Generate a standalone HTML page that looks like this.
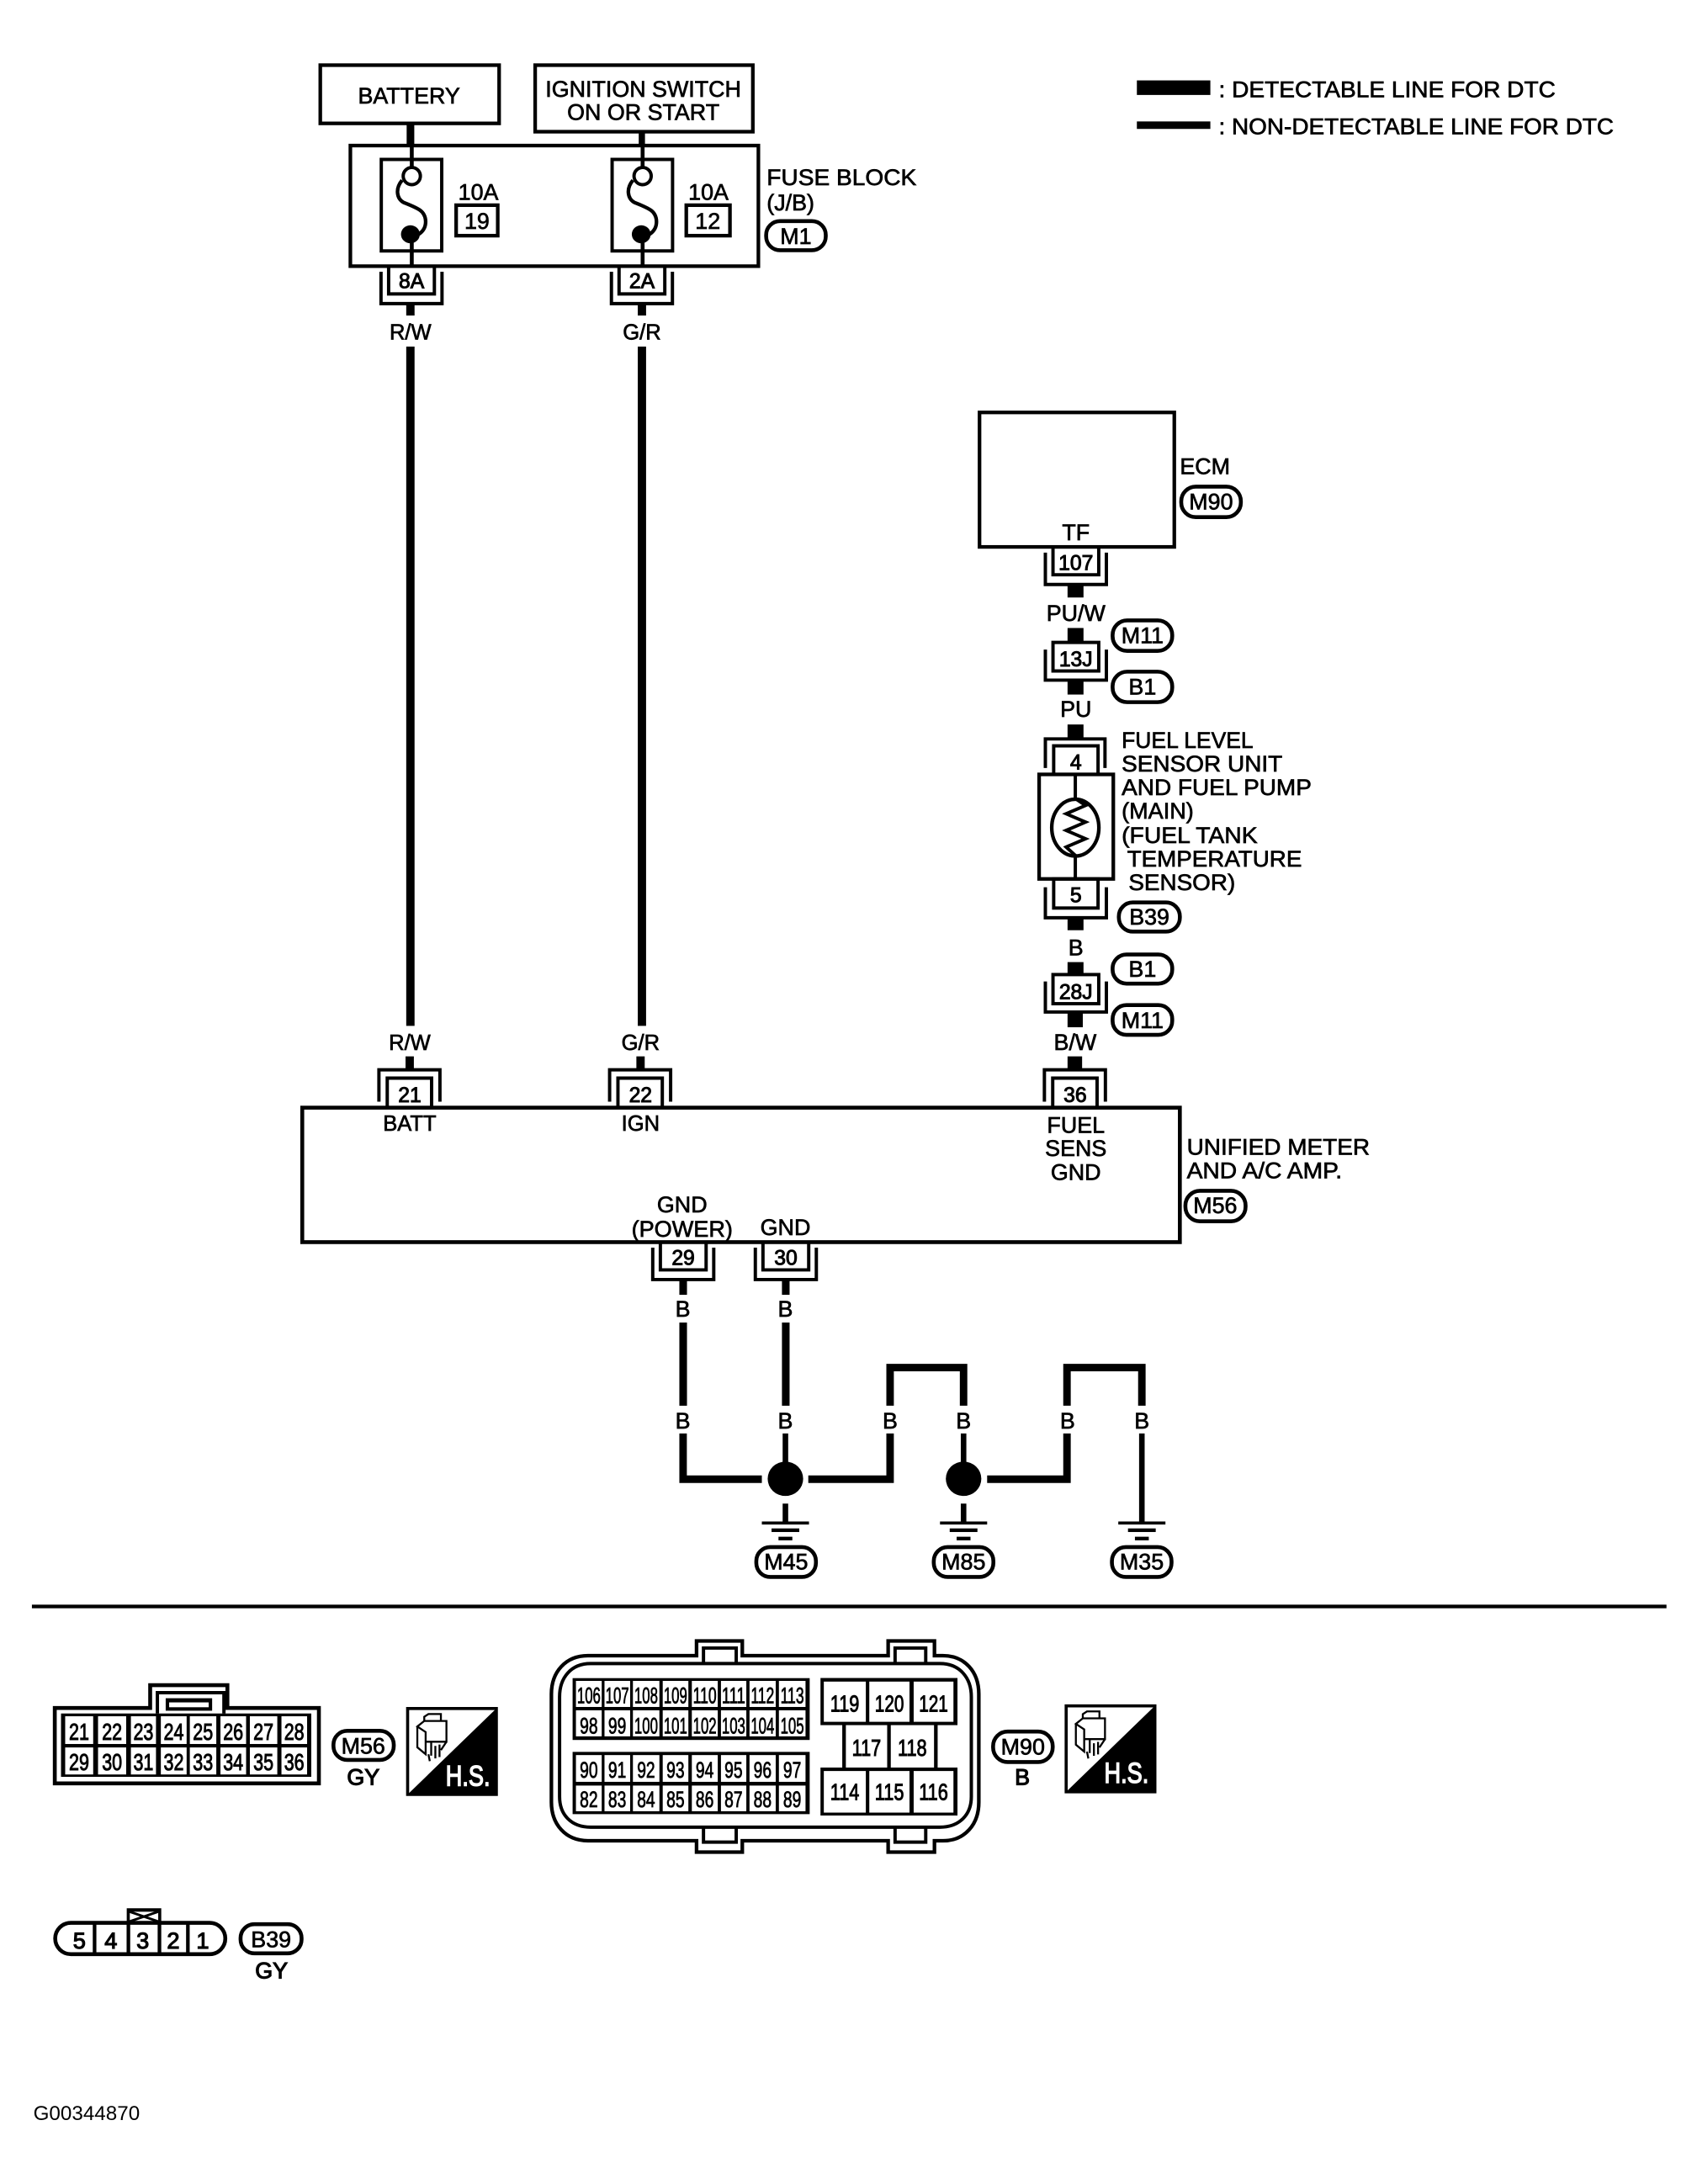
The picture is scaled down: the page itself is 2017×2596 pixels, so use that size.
<!DOCTYPE html>
<html>
<head>
<meta charset="utf-8">
<style>
html,body{margin:0;padding:0;background:#fff;width:2017px;height:2596px;overflow:hidden}
svg{display:block}
text{font-family:"Liberation Sans",sans-serif;font-size:16.3px;fill:#000;stroke:#000;stroke-width:.42px}
.m{text-anchor:middle}
.n{font-size:17px;stroke-width:.6px}
.s{font-size:16.5px;stroke-width:.5px}
.l{fill:none;stroke:#000;stroke-width:2.4}
.w{fill:#fff;stroke:none}
.k{fill:#000;stroke:none}
.p{fill:#fff;stroke:#000;stroke-width:2.8}
</style>
</head>
<body>
<svg width="2017" height="2596" viewBox="0 0 1224 1575.4" xmlns="http://www.w3.org/2000/svg">
<defs>
<g id="cd"><path class="l" d="M-16.5 0V20H16.5V0"/><path class="l" d="M-22 4V27H22V4"/></g>
<g id="cu"><path class="l" d="M-16 0V-21H16V0"/><path class="l" d="M-22 -4V-27H22V-4"/></g>
<g id="gnd"><rect class="k" x="-17" y="-1" width="34" height="2.2"/><rect class="k" x="-10" y="4" width="20" height="2.6"/><rect class="k" x="-5" y="10" width="10" height="2.6"/></g>
<g id="fuse">
<rect class="l" x="-22" y="115" width="43.6" height="66"/>
<path class="l" d="M0 105V121M0 175V192" style="stroke-width:2.8"/>
<circle cx="0" cy="127" r="6.2" class="l"/>
<path class="l" d="M-7 130C-12 136-11 143-6 146C4 150 10 152 10 160C10 164 8 167 5 169" style="stroke-width:2.6"/>
<ellipse class="k" cx="-1" cy="169" rx="6.8" ry="6.5"/>
</g>
<g id="hs">
<path class="p" style="stroke-width:2.2" d="M0 0H64V62H0Z"/>
<path class="k" d="M64 0V62H0Z"/>
<path class="l" style="stroke-width:1.4" d="M7 13V28L13 33V17L7 13L12 9H28V24H13M12 9V6L15 4H24V9M28 24L24 30M17 24V34M20 27V36M23 26V35M15 33L16 38"/>
</g>
</defs>

<!-- legend -->
<rect class="k" x="820" y="58" width="53" height="10.5"/>
<rect class="k" x="820" y="87.6" width="53" height="5.4"/>
<text x="879" y="70" textLength="243" lengthAdjust="spacingAndGlyphs">: DETECTABLE LINE FOR DTC</text>
<text x="879" y="96.7" textLength="285" lengthAdjust="spacingAndGlyphs">: NON-DETECTABLE LINE FOR DTC</text>

<!-- top boxes -->
<rect class="l" x="231" y="47" width="129" height="42" style="stroke-width:2.6"/>
<text class="m" x="295" y="74.5">BATTERY</text>
<rect class="l" x="386" y="47" width="157" height="48" style="stroke-width:2.6"/>
<text class="m" x="464" y="69.9">IGNITION SWITCH</text>
<text class="m" x="464" y="86.6">ON OR START</text>
<rect class="k" x="293.3" y="89" width="5.5" height="16"/>
<rect class="k" x="460.7" y="95" width="4.5" height="10"/>

<!-- fuse block -->
<rect class="l" x="252.7" y="105" width="294.3" height="87" style="stroke-width:2.6"/>
<use href="#fuse" x="297"/>
<use href="#fuse" x="463.5"/>
<text class="m" x="345" y="144">10A</text>
<rect class="l" x="329" y="148" width="30" height="22" style="stroke-width:2.6"/>
<text class="m" x="344" y="165">19</text>
<text class="m" x="511" y="144">10A</text>
<rect class="l" x="495" y="148" width="31.5" height="22" style="stroke-width:2.6"/>
<text class="m" x="510.5" y="165">12</text>
<text x="553" y="133.5" textLength="108" lengthAdjust="spacingAndGlyphs">FUSE BLOCK</text>
<text x="553" y="151.7">(J/B)</text>
<rect class="p" x="552.6" y="159.5" width="43" height="21" rx="10"/>
<text class="m" x="574" y="176">M1</text>

<!-- R/W, G/R -->
<use href="#cd" x="296.8" y="192"/>
<use href="#cd" x="463" y="192"/>
<text class="m n" x="296.8" y="208" style="font-size:15px">8A</text>
<text class="m n" x="463" y="208" style="font-size:15px">2A</text>
<rect class="k" x="293" y="218.6" width="6" height="9"/>
<rect class="k" x="460" y="218.6" width="6" height="9"/>
<text class="m" x="296" y="244.8" style="font-size:15.5px">R/W</text>
<text class="m" x="463" y="244.8" style="font-size:15.5px">G/R</text>
<rect class="k" x="293" y="250" width="6" height="490"/>
<rect class="k" x="460" y="250" width="6" height="490"/>
<text class="m" x="295.5" y="757.4" style="font-size:15.5px">R/W</text>
<text class="m" x="462" y="757.4" style="font-size:15.5px">G/R</text>
<rect class="k" x="292.5" y="762" width="6" height="10"/>
<rect class="k" x="459" y="762" width="6" height="10"/>

<!-- ECM -->
<rect class="l" x="706.5" y="297.5" width="140.5" height="97" style="stroke-width:2.6"/>
<text x="851" y="342">ECM</text>
<rect class="p" x="852" y="351" width="43" height="22" rx="10.5"/>
<text class="m" x="873.5" y="367.5">M90</text>
<text class="m" x="776" y="389.6">TF</text>
<use href="#cd" x="776" y="394.6"/>
<text class="m n" x="776" y="411" style="font-size:15px">107</text>
<rect class="k" x="770" y="421.7" width="11.5" height="9.3"/>
<text class="m" x="776" y="448">PU/W</text>
<rect class="k" x="770" y="453" width="11.5" height="10"/>
<rect class="l" x="759.5" y="463.4" width="33" height="20.6"/>
<path class="l" d="M754 468.6V490.6H798V468.6"/>
<text class="m n" x="776" y="480.5" style="font-size:15px">13J</text>
<rect class="k" x="770" y="490.6" width="11.5" height="10.4"/>
<rect class="p" x="802.5" y="447.5" width="43" height="22" rx="10.5"/>
<text class="m" x="824" y="464">M11</text>
<rect class="p" x="802.5" y="484.5" width="43" height="22" rx="10.5"/>
<text class="m" x="824" y="501">B1</text>
<text class="m" x="776" y="517">PU</text>
<rect class="k" x="770" y="522.6" width="11.5" height="9.4"/>
<path class="l" d="M754 554V533H797V554"/>
<rect class="l" x="760" y="538" width="32" height="20.6"/>
<text class="m n" x="776" y="555" style="font-size:15px">4</text>
<rect class="l" x="749.5" y="558.6" width="53.5" height="75.4" style="stroke-width:2.6"/>
<path class="l" d="M775.6 558.6V576L783 581L769 587L783 593L769 599L783 605L769 611L775.6 617V634" style="stroke-width:2.4"/>
<ellipse class="l" cx="775.6" cy="597" rx="17" ry="20.5" style="stroke-width:2.6"/>
<rect class="l" x="760" y="634" width="32" height="21"/>
<path class="l" d="M754 640V662H798V640"/>
<text class="m n" x="776" y="651" style="font-size:15px">5</text>
<text x="809" y="539.5" textLength="95" lengthAdjust="spacingAndGlyphs">FUEL LEVEL</text>
<text x="809" y="556.5" textLength="116" lengthAdjust="spacingAndGlyphs">SENSOR UNIT</text>
<text x="809" y="573.5" textLength="137" lengthAdjust="spacingAndGlyphs">AND FUEL PUMP</text>
<text x="809" y="590.5" textLength="52" lengthAdjust="spacingAndGlyphs">(MAIN)</text>
<text x="809" y="608" textLength="98" lengthAdjust="spacingAndGlyphs">(FUEL TANK</text>
<text x="813" y="625" textLength="126" lengthAdjust="spacingAndGlyphs">TEMPERATURE</text>
<text x="814" y="642" textLength="77" lengthAdjust="spacingAndGlyphs">SENSOR)</text>
<rect class="p" x="807" y="651" width="44" height="21" rx="10"/>
<text class="m" x="829" y="667">B39</text>
<rect class="k" x="770" y="662" width="11.5" height="9"/>
<text class="m" x="776" y="689">B</text>
<rect class="k" x="770" y="694" width="11.5" height="9"/>
<rect class="l" x="759.5" y="703" width="33" height="21"/>
<path class="l" d="M754 708V730H798V708"/>
<text class="m n" x="776" y="720.5" style="font-size:15px">28J</text>
<rect class="p" x="802.5" y="688.5" width="43" height="21" rx="10"/>
<text class="m" x="824" y="704.5">B1</text>
<rect class="p" x="802.5" y="725" width="43" height="21.5" rx="10"/>
<text class="m" x="824" y="741.5">M11</text>
<rect class="k" x="770" y="730" width="11" height="11"/>
<text class="m" x="775.5" y="757.4">B/W</text>
<rect class="k" x="770" y="762" width="10.5" height="10"/>

<!-- main box -->
<use href="#cu" x="295.3" y="798.7"/>
<use href="#cu" x="461.7" y="798.7"/>
<use href="#cu" x="775.3" y="798.7"/>
<text class="m n" x="295.5" y="795" style="font-size:15px">21</text>
<text class="m n" x="462" y="795" style="font-size:15px">22</text>
<text class="m n" x="775.5" y="795" style="font-size:15px">36</text>
<rect class="l" x="218" y="799" width="633" height="97" style="stroke-width:2.8"/>
<text class="m" x="295.5" y="815.5" style="font-size:15.5px">BATT</text>
<text class="m" x="462" y="815.5" style="font-size:15.5px">IGN</text>
<text class="m" x="776" y="817">FUEL</text>
<text class="m" x="776" y="833.7">SENS</text>
<text class="m" x="776" y="851">GND</text>
<text x="856" y="833" textLength="132" lengthAdjust="spacingAndGlyphs">UNIFIED METER</text>
<text x="856" y="850" textLength="112" lengthAdjust="spacingAndGlyphs">AND A/C AMP.</text>
<rect class="p" x="855" y="859" width="43.4" height="22" rx="10.5"/>
<text class="m" x="876.5" y="875">M56</text>
<text class="m" x="492" y="874.6">GND</text>
<text class="m" x="492" y="892" textLength="73" lengthAdjust="spacingAndGlyphs">(POWER)</text>
<text class="m" x="566.5" y="891">GND</text>
<use href="#cd" x="492.8" y="896"/>
<use href="#cd" x="566.8" y="896"/>
<text class="m n" x="492.8" y="912.4" style="font-size:15px">29</text>
<text class="m n" x="566.8" y="912.4" style="font-size:15px">30</text>

<!-- ground wiring -->
<rect class="k" x="490" y="922.6" width="5.5" height="11.4"/>
<rect class="k" x="564" y="922.6" width="5.5" height="11.4"/>
<text class="m" x="492.5" y="949.8">B</text>
<text class="m" x="566.5" y="949.8">B</text>
<rect class="k" x="490" y="954" width="5.5" height="60"/>
<rect class="k" x="564" y="954" width="5.5" height="60"/>
<text class="m" x="492.5" y="1030.5">B</text>
<text class="m" x="566.5" y="1030.5">B</text>
<text class="m" x="642" y="1030.5">B</text>
<text class="m" x="695" y="1030.5">B</text>
<text class="m" x="770" y="1030.5">B</text>
<text class="m" x="823.6" y="1030.5">B</text>
<path d="M492.7 1034V1067H549.5" fill="none" stroke="#000" stroke-width="5.4"/>
<path d="M583 1067H642V1034" fill="none" stroke="#000" stroke-width="5.4"/>
<path d="M642 1014V986.5H695V1014" fill="none" stroke="#000" stroke-width="5.4"/>
<path d="M712 1067H769.6V1034" fill="none" stroke="#000" stroke-width="5.4"/>
<path d="M769.6 1014V986.5H823.6V1014" fill="none" stroke="#000" stroke-width="5.4"/>
<rect class="k" x="564.5" y="1034" width="4" height="22"/>
<rect class="k" x="693" y="1034" width="4" height="22"/>
<rect class="k" x="821.6" y="1034" width="4" height="65"/>
<ellipse class="k" cx="566.5" cy="1066.7" rx="12.8" ry="12.4"/>
<ellipse class="k" cx="695" cy="1066.7" rx="12.8" ry="12.4"/>
<rect class="k" x="564.5" y="1084.6" width="4" height="14"/>
<rect class="k" x="693" y="1084.6" width="4" height="14"/>
<use href="#gnd" x="566.5" y="1098.5"/>
<use href="#gnd" x="695" y="1098.5"/>
<use href="#gnd" x="823.6" y="1098.5"/>
<rect class="p" x="545.5" y="1116" width="43" height="21.5" rx="10"/>
<text class="m" x="567" y="1132">M45</text>
<rect class="p" x="673.5" y="1116" width="43" height="21.5" rx="10"/>
<text class="m" x="695" y="1132">M85</text>
<rect class="p" x="802" y="1116" width="43" height="21.5" rx="10"/>
<text class="m" x="823.5" y="1132">M35</text>

<!-- separator -->
<rect class="k" x="23" y="1157.5" width="1179" height="2.6"/>

<!-- M56 connector -->
<path class="l" d="M39.5 1286.4V1232H108.3V1215.6H164V1232H230V1286.4Z" style="stroke-width:2.8;fill:#fff"/>
<path class="l" d="M113.5 1236V1221H161.5V1236"/>
<rect class="k" x="119.5" y="1225" width="33.5" height="9"/>
<rect class="w" x="122" y="1228" width="28.5" height="3.5"/>
<rect class="k" x="44" y="1236" width="180.5" height="45.7"/>
<g class="w">
<rect x="47" y="1238" width="20.2" height="20"/><rect x="70.7" y="1238" width="20.3" height="20"/><rect x="94.4" y="1238" width="18.1" height="20"/><rect x="116" y="1238" width="18.6" height="20"/><rect x="136.9" y="1238" width="19.1" height="20"/><rect x="159" y="1238" width="18.5" height="20"/><rect x="180.2" y="1238" width="19.8" height="20"/><rect x="203" y="1238" width="18.5" height="20"/>
<rect x="47" y="1260.5" width="20.2" height="19.5"/><rect x="70.7" y="1260.5" width="20.3" height="19.5"/><rect x="94.4" y="1260.5" width="18.1" height="19.5"/><rect x="116" y="1260.5" width="18.6" height="19.5"/><rect x="136.9" y="1260.5" width="19.1" height="19.5"/><rect x="159" y="1260.5" width="18.5" height="19.5"/><rect x="180.2" y="1260.5" width="19.8" height="19.5"/><rect x="203" y="1260.5" width="18.5" height="19.5"/>
</g>
<text class="m n" x="57" y="1255" textLength="14.5" lengthAdjust="spacingAndGlyphs">21</text><text class="m n" x="80.8" y="1255" textLength="14.5" lengthAdjust="spacingAndGlyphs">22</text><text class="m n" x="103.4" y="1255" textLength="14.5" lengthAdjust="spacingAndGlyphs">23</text><text class="m n" x="125.3" y="1255" textLength="14.5" lengthAdjust="spacingAndGlyphs">24</text><text class="m n" x="146.4" y="1255" textLength="14.5" lengthAdjust="spacingAndGlyphs">25</text><text class="m n" x="168.2" y="1255" textLength="14.5" lengthAdjust="spacingAndGlyphs">26</text><text class="m n" x="190" y="1255" textLength="14.5" lengthAdjust="spacingAndGlyphs">27</text><text class="m n" x="212.2" y="1255" textLength="14.5" lengthAdjust="spacingAndGlyphs">28</text>
<text class="m n" x="57" y="1276.7" textLength="14.5" lengthAdjust="spacingAndGlyphs">29</text><text class="m n" x="80.8" y="1276.7" textLength="14.5" lengthAdjust="spacingAndGlyphs">30</text><text class="m n" x="103.4" y="1276.7" textLength="14.5" lengthAdjust="spacingAndGlyphs">31</text><text class="m n" x="125.3" y="1276.7" textLength="14.5" lengthAdjust="spacingAndGlyphs">32</text><text class="m n" x="146.4" y="1276.7" textLength="14.5" lengthAdjust="spacingAndGlyphs">33</text><text class="m n" x="168.2" y="1276.7" textLength="14.5" lengthAdjust="spacingAndGlyphs">34</text><text class="m n" x="190" y="1276.7" textLength="14.5" lengthAdjust="spacingAndGlyphs">35</text><text class="m n" x="212.2" y="1276.7" textLength="14.5" lengthAdjust="spacingAndGlyphs">36</text>
<rect class="p" x="240.5" y="1248.5" width="43.5" height="21" rx="10"/>
<text class="m" x="262" y="1265">M56</text>
<text class="m" x="262" y="1287.5" style="stroke-width:.7">GY</text>
<use href="#hs" x="294" y="1232.4"/>
<text class="m" x="337.5" y="1288" style="font-size:21px;fill:#fff;stroke:#fff;stroke-width:.9" textLength="32" lengthAdjust="spacingAndGlyphs">H.S.</text>

<!-- M90 connector -->
<path class="l" style="stroke-width:2.6;fill:#fff" d="M424 1194.3H502.4V1183.7H535.4V1194.3H640.6V1183.7H674V1194.3H680C696 1194.3 706 1206 706 1222V1300C706 1316 696 1327.8 680 1327.8H674V1336H640.6V1327.8H535.4V1336H502.4V1327.8H424C408 1327.8 397.7 1316 397.7 1300V1222C397.7 1206 408 1194.3 424 1194.3Z"/>
<path class="l" d="M426 1200H678C692 1200 700.6 1210 700.6 1224V1296C700.6 1309 692 1318 678 1318H426C412 1318 403.6 1309 403.6 1296V1224C403.6 1210 412 1200 426 1200Z"/>
<path class="l" d="M507.4 1200V1188.8H531V1200M645.6 1200V1188.8H667.7V1200M507.4 1318V1328.8H531V1318M645.6 1318V1328.8H667.7V1318"/>
<rect class="k" x="413" y="1210.5" width="171" height="44.6"/>
<rect class="k" x="413" y="1263.7" width="171" height="44.9"/>
<g class="w">
<rect x="415.4" y="1212.5" width="18.6" height="18.8"/><rect x="436" y="1212.5" width="18.5" height="18.8"/><rect x="456.5" y="1212.5" width="19.1" height="18.8"/><rect x="478" y="1212.5" width="18.5" height="18.8"/><rect x="499" y="1212.5" width="18.7" height="18.8"/><rect x="520" y="1212.5" width="18.3" height="18.8"/><rect x="540.6" y="1212.5" width="18.9" height="18.8"/><rect x="561.8" y="1212.5" width="19.2" height="18.8"/>
<rect x="415.4" y="1233.7" width="18.6" height="18.8"/><rect x="436" y="1233.7" width="18.5" height="18.8"/><rect x="456.5" y="1233.7" width="19.1" height="18.8"/><rect x="478" y="1233.7" width="18.5" height="18.8"/><rect x="499" y="1233.7" width="18.7" height="18.8"/><rect x="520" y="1233.7" width="18.3" height="18.8"/><rect x="540.6" y="1233.7" width="18.9" height="18.8"/><rect x="561.8" y="1233.7" width="19.2" height="18.8"/>
<rect x="415.4" y="1266" width="18.6" height="19.3"/><rect x="436" y="1266" width="18.5" height="19.3"/><rect x="456.5" y="1266" width="19.1" height="19.3"/><rect x="478" y="1266" width="18.5" height="19.3"/><rect x="499" y="1266" width="18.7" height="19.3"/><rect x="520" y="1266" width="18.3" height="19.3"/><rect x="540.6" y="1266" width="18.9" height="19.3"/><rect x="561.8" y="1266" width="19.2" height="19.3"/>
<rect x="415.4" y="1288" width="18.6" height="18.5"/><rect x="436" y="1288" width="18.5" height="18.5"/><rect x="456.5" y="1288" width="19.1" height="18.5"/><rect x="478" y="1288" width="18.5" height="18.5"/><rect x="499" y="1288" width="18.7" height="18.5"/><rect x="520" y="1288" width="18.3" height="18.5"/><rect x="540.6" y="1288" width="18.9" height="18.5"/><rect x="561.8" y="1288" width="19.2" height="18.5"/>
</g>
<text class="m s" x="424.7" y="1228.7" textLength="17" lengthAdjust="spacingAndGlyphs">106</text><text class="m s" x="445.2" y="1228.7" textLength="17" lengthAdjust="spacingAndGlyphs">107</text><text class="m s" x="466" y="1228.7" textLength="17" lengthAdjust="spacingAndGlyphs">108</text><text class="m s" x="487.2" y="1228.7" textLength="17" lengthAdjust="spacingAndGlyphs">109</text><text class="m s" x="508.3" y="1228.7" textLength="17" lengthAdjust="spacingAndGlyphs">110</text><text class="m s" x="529.1" y="1228.7" textLength="17" lengthAdjust="spacingAndGlyphs">111</text><text class="m s" x="550" y="1228.7" textLength="17" lengthAdjust="spacingAndGlyphs">112</text><text class="m s" x="571.4" y="1228.7" textLength="17" lengthAdjust="spacingAndGlyphs">113</text>
<text class="m s" x="424.7" y="1250.3" textLength="13" lengthAdjust="spacingAndGlyphs">98</text><text class="m s" x="445.2" y="1250.3" textLength="13" lengthAdjust="spacingAndGlyphs">99</text><text class="m s" x="466" y="1250.3" textLength="17" lengthAdjust="spacingAndGlyphs">100</text><text class="m s" x="487.2" y="1250.3" textLength="17" lengthAdjust="spacingAndGlyphs">101</text><text class="m s" x="508.3" y="1250.3" textLength="17" lengthAdjust="spacingAndGlyphs">102</text><text class="m s" x="529.1" y="1250.3" textLength="17" lengthAdjust="spacingAndGlyphs">103</text><text class="m s" x="550" y="1250.3" textLength="17" lengthAdjust="spacingAndGlyphs">104</text><text class="m s" x="571.4" y="1250.3" textLength="17" lengthAdjust="spacingAndGlyphs">105</text>
<text class="m s" x="424.7" y="1282.3" textLength="13" lengthAdjust="spacingAndGlyphs">90</text><text class="m s" x="445.2" y="1282.3" textLength="13" lengthAdjust="spacingAndGlyphs">91</text><text class="m s" x="466" y="1282.3" textLength="13" lengthAdjust="spacingAndGlyphs">92</text><text class="m s" x="487.2" y="1282.3" textLength="13" lengthAdjust="spacingAndGlyphs">93</text><text class="m s" x="508.3" y="1282.3" textLength="13" lengthAdjust="spacingAndGlyphs">94</text><text class="m s" x="529.1" y="1282.3" textLength="13" lengthAdjust="spacingAndGlyphs">95</text><text class="m s" x="550" y="1282.3" textLength="13" lengthAdjust="spacingAndGlyphs">96</text><text class="m s" x="571.4" y="1282.3" textLength="13" lengthAdjust="spacingAndGlyphs">97</text>
<text class="m s" x="424.7" y="1303.5" textLength="13" lengthAdjust="spacingAndGlyphs">82</text><text class="m s" x="445.2" y="1303.5" textLength="13" lengthAdjust="spacingAndGlyphs">83</text><text class="m s" x="466" y="1303.5" textLength="13" lengthAdjust="spacingAndGlyphs">84</text><text class="m s" x="487.2" y="1303.5" textLength="13" lengthAdjust="spacingAndGlyphs">85</text><text class="m s" x="508.3" y="1303.5" textLength="13" lengthAdjust="spacingAndGlyphs">86</text><text class="m s" x="529.1" y="1303.5" textLength="13" lengthAdjust="spacingAndGlyphs">87</text><text class="m s" x="550" y="1303.5" textLength="13" lengthAdjust="spacingAndGlyphs">88</text><text class="m s" x="571.4" y="1303.5" textLength="13" lengthAdjust="spacingAndGlyphs">89</text>

<rect class="k" x="591.8" y="1210.4" width="98.8" height="34"/>
<rect class="w" x="594.2" y="1213" width="30.3" height="29"/><rect class="w" x="627" y="1213" width="29" height="29"/><rect class="w" x="659" y="1213" width="28.7" height="29"/>
<path class="l" d="M608.8 1244V1275M641.2 1244V1275M675 1244V1275" style="stroke-width:2.6"/>
<rect class="k" x="591.8" y="1275" width="98.8" height="34.6"/>
<rect class="w" x="594.2" y="1277.5" width="30.3" height="30"/><rect class="w" x="627" y="1277.5" width="29" height="30"/><rect class="w" x="659" y="1277.5" width="28.7" height="30"/>
<text class="m n" x="609.3" y="1234.7" textLength="21" lengthAdjust="spacingAndGlyphs">119</text>
<text class="m n" x="641.5" y="1234.7" textLength="21" lengthAdjust="spacingAndGlyphs">120</text>
<text class="m n" x="673.3" y="1234.7" textLength="21" lengthAdjust="spacingAndGlyphs">121</text>
<text class="m n" x="625" y="1266.5" textLength="21" lengthAdjust="spacingAndGlyphs">117</text>
<text class="m n" x="658" y="1266.5" textLength="21" lengthAdjust="spacingAndGlyphs">118</text>
<text class="m n" x="609.3" y="1298.5" textLength="21" lengthAdjust="spacingAndGlyphs">114</text>
<text class="m n" x="641.5" y="1298.5" textLength="21" lengthAdjust="spacingAndGlyphs">115</text>
<text class="m n" x="673.3" y="1298.5" textLength="21" lengthAdjust="spacingAndGlyphs">116</text>
<rect class="p" x="716.3" y="1249" width="43" height="22" rx="10.5"/>
<text class="m" x="737.8" y="1265.5">M90</text>
<text class="m" x="737.4" y="1287.3" style="stroke-width:.7">B</text>
<use href="#hs" x="769" y="1230.5"/>
<text class="m" x="812.5" y="1286" style="font-size:21px;fill:#fff;stroke:#fff;stroke-width:.9" textLength="32" lengthAdjust="spacingAndGlyphs">H.S.</text>

<!-- B39 connector -->
<rect class="k" x="91.4" y="1376.5" width="24.9" height="11"/>
<rect class="w" x="93.6" y="1379" width="20.5" height="7"/>
<path class="l" style="stroke-width:1.8" d="M93.6 1379L114 1386M114 1379L93.6 1386"/>
<rect class="l" x="39.8" y="1387" width="122.7" height="22.6" rx="11.3" style="stroke-width:2.8;fill:#fff"/>
<path class="l" d="M68.2 1387V1409M92.6 1387V1409M115 1387V1409M135.5 1387V1409" style="stroke-width:2.6"/>
<text class="m" x="57.2" y="1405.4" style="font-size:16.5px;stroke-width:.7">5</text>
<text class="m" x="80" y="1405.4" style="font-size:16.5px;stroke-width:.7">4</text>
<text class="m" x="103" y="1405.4" style="font-size:16.5px;stroke-width:.7">3</text>
<text class="m" x="125" y="1405.4" style="font-size:16.5px;stroke-width:.7">2</text>
<text class="m" x="146.2" y="1405.4" style="font-size:16.5px;stroke-width:.7">1</text>
<rect class="p" x="173.5" y="1388" width="44" height="21" rx="10"/>
<text class="m" x="195.5" y="1404.5">B39</text>
<text class="m" x="195.8" y="1427" style="stroke-width:.7">GY</text>

<text x="24" y="1529.2" style="font-size:14.7px;stroke-width:0">G00344870</text>
</svg>
</body>
</html>
